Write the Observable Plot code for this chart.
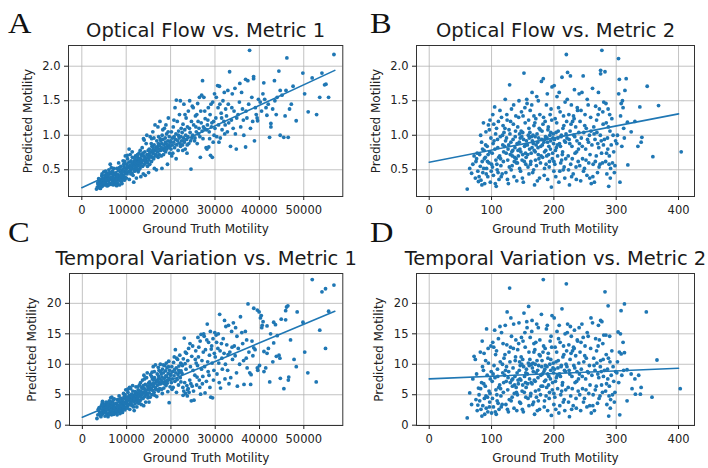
<!DOCTYPE html>
<html><head><meta charset="utf-8">
<script src="https://cdn.jsdelivr.net/npm/d3@7"></script>
<script src="https://cdn.jsdelivr.net/npm/@observablehq/plot@0.6"></script>
<style>
html,body{margin:0;padding:0;background:#fff;}
#wrap{position:relative;width:708px;height:468px;overflow:hidden;background:#fff;font-family:"DejaVu Sans",sans-serif;}
#wrap svg{position:absolute;overflow:visible;}
</style></head><body><div id="wrap"></div>
<script>
// ---- text ----
const titles = ["Optical Flow vs. Metric 1","Optical Flow vs. Metric 2","Temporal Variation vs. Metric 1","Temporal Variation vs. Metric 2"];
const panelLetters = ["A","B","C","D"];
const xLabel = "Ground Truth Motility";
const yLabel = "Predicted Motility";
// ---- ticks ----
const metric1Ticks = [0,10000,20000,30000,40000,50000];
const metric2Ticks = [0,100,200,300,400];
const opticalTicks = [0.5,1.0,1.5,2.0];
const temporalTicks = [0,5,10,15,20];
// ---- fitted regression lines ----
const fitA = [[0,0.24],[57000,1.94]];
const fitB = [[0,0.61],[400,1.31]];
const fitC = [[0,1.3],[57000,18.7]];
const fitD = [[0,7.6],[400,9.35]];
// ---- A: Optical Flow vs Metric 1 ----
const opticalVsMetric1 = [
[3300,0.22],[3500,0.25],[3700,0.29],[3900,0.24],[4000,0.33],[4100,0.27],[4300,0.36],[4400,0.30],[4500,0.41],[4600,0.26],[4700,0.34],[4800,0.38],[4900,0.29],[3600,0.31],[4200,0.23],[4550,0.44],[4850,0.32],[4950,0.47],[3800,0.37],[4650,0.35],[4350,0.28],[4750,0.30],
[5000,0.36],[5100,0.28],[5200,0.42],[5300,0.33],[5400,0.39],[5500,0.30],[5600,0.45],[5700,0.36],[5800,0.27],[5900,0.41],[6000,0.34],[6100,0.50],[6200,0.31],[6300,0.38],[6400,0.58],[6500,0.44],[6600,0.29],[6700,0.36],[6800,0.47],[6900,0.33],[7000,0.40],[7100,0.28],[7200,0.52],[7300,0.35],[7400,0.43],[5050,0.31],[5350,0.48],[5650,0.27],[5950,0.37],[6250,0.46],[6550,0.39],[6850,0.30],[7150,0.44],[7450,0.33],[5450,0.35],[6050,0.28],[6650,0.53],[7250,0.38],[5750,0.42],[6950,0.48],
[7500,0.36],[7600,0.29],[7700,0.45],[7800,0.39],[7900,0.52],[8000,0.31],[8100,0.43],[8200,0.36],[8300,0.60],[8400,0.40],[8500,0.28],[8600,0.47],[8700,0.38],[8800,0.55],[8900,0.33],[9000,0.44],[9100,0.50],[9200,0.37],[9300,0.63],[9400,0.42],[9500,0.54],[9600,0.35],[9700,0.48],[9800,0.70],[9900,0.45],[7650,0.33],[7950,0.41],[8250,0.50],[8550,0.34],[8850,0.46],[9150,0.40],[9450,0.58],[9750,0.39],[7850,0.27],[8450,0.53],[9050,0.30],[9650,0.62],[9950,0.52],[8750,0.42],[9350,0.47],
[10000,0.50],[10100,0.58],[10200,0.44],[10300,0.66],[10400,0.53],[10500,0.47],[10600,0.61],[10700,0.36],[10800,0.56],[10900,0.72],[11000,0.49],[11100,0.63],[11200,0.54],[11300,0.45],[11400,0.68],[11500,0.58],[11600,0.51],[11700,0.32],[11800,0.62],[11900,0.48],[12000,0.57],[12100,0.70],[12200,0.52],[12300,0.38],[12400,0.64],[10050,0.38],[10350,0.55],[10650,0.80],[10950,0.52],[11250,0.60],[11550,0.42],[11850,0.55],[12150,0.61],[12450,0.50],[10250,0.71],[10750,0.48],[11350,0.76],[11950,0.66],[12350,0.58],[11050,0.44],
[12500,0.55],[12600,0.68],[12700,0.47],[12800,0.62],[12900,0.74],[13000,0.58],[13100,0.52],[13200,0.66],[13300,0.40],[13400,0.71],[13500,0.60],[13600,0.82],[13700,0.55],[13800,0.64],[13900,0.95],[14000,0.70],[14100,0.58],[14200,0.76],[14300,0.42],[14400,0.66],[14500,0.88],[14600,0.62],[14700,0.72],[14800,0.55],[14900,0.68],[12550,0.72],[12850,0.50],[13150,0.78],[13450,0.63],[13750,0.74],[14050,0.93],[14350,0.62],[14650,1.00],[14950,0.78],[12750,0.60],[13250,0.56],[13850,0.44],[14250,0.68],[14750,0.60],[13650,0.70],[14150,0.64],[12950,0.66],
[15000,0.72],[15100,0.64],[15200,0.80],[15300,0.58],[15400,0.98],[15500,0.70],[15600,0.76],[15700,0.62],[15800,0.84],[15900,0.68],[16000,1.05],[16100,0.74],[16200,0.66],[16300,0.86],[16400,0.78],[16500,1.15],[16600,0.70],[16700,0.82],[16800,0.50],[16900,0.92],[17000,0.76],[17100,0.84],[17200,0.68],[17300,0.98],[17400,0.80],[15050,0.46],[15350,0.75],[15650,0.88],[15950,0.78],[16250,0.96],[16550,0.72],[16850,0.80],[17150,1.12],[17450,0.72],[15250,0.68],[15750,0.95],[16350,0.52],[16950,0.70],[17250,0.88],[16050,0.82],
[17500,0.85],[17600,1.20],[17700,0.78],[17800,0.92],[17900,0.70],[18000,0.88],[18100,1.00],[18200,0.80],[18300,0.94],[18400,0.72],[18500,0.86],[18600,1.10],[18700,0.82],[18800,0.96],[18900,0.76],[19000,0.88],[19100,1.02],[19200,0.84],[19300,0.58],[19400,0.92],[19500,1.25],[19600,0.86],[19700,0.98],[19800,0.74],[19900,0.90],[17650,0.95],[17950,0.82],[18250,1.08],[18550,0.78],[18850,0.90],[19150,0.80],[19450,1.05],[19750,0.82],[18050,0.52],[18950,1.15],
[20000,0.92],[20100,0.80],[20200,1.05],[20300,0.86],[20400,0.96],[20500,0.74],[20600,1.12],[20700,0.90],[20800,0.98],[20900,0.82],[21000,1.40],[21100,0.94],[21200,1.02],[21300,1.51],[21400,0.86],[21500,1.20],[21600,0.92],[21700,0.78],[21800,1.06],[21900,0.96],[22000,1.30],[22100,0.88],[22200,1.50],[22300,0.98],[22400,1.10],[20250,0.70],[20750,1.22],[21250,0.66],[21750,1.00],[22250,0.84],
[22500,0.92],[22600,1.04],[22700,0.86],[22800,1.16],[22900,0.96],[23000,1.45],[23100,0.90],[23200,1.08],[23300,0.80],[23400,1.00],[23500,1.25],[23600,0.94],[23700,0.74],[23800,1.12],[23900,0.98],[24000,1.35],[24100,0.88],[24300,1.50],[24400,1.04],[24500,0.92],[24600,0.51],[24700,1.20],[24800,0.96],[24900,1.42],[22750,0.78],[23250,1.30],[23750,0.86],[24250,1.10],
[25000,1.00],[25200,1.15],[25400,0.92],[25600,1.28],[25800,1.05],[26000,0.88],[26200,1.20],[26400,1.10],[26600,0.98],[26700,0.68],[26800,1.35],[27000,1.58],[27200,1.79],[27400,1.12],[25100,1.40],[25500,0.96],[25900,1.30],[26300,1.02],[26500,1.55],[26900,1.18],[27300,0.95],[25700,1.12],[26100,1.46],[27100,1.06],
[27500,1.55],[27600,1.10],[27800,1.24],[28000,0.82],[28200,0.80],[28300,1.15],[28500,1.40],[28600,0.83],[28700,1.05],[28900,1.30],[29000,0.71],[29200,1.12],[29400,0.68],[29500,1.48],[29700,1.20],[29800,1.00],[29900,1.60],[27700,1.35],[28100,1.08],[28400,1.22],[28800,0.95],[29100,1.45],[29300,1.18],[29600,0.90],
[30000,1.10],[30200,1.25],[30400,0.98],[30600,1.72],[30700,1.40],[30800,1.15],[31000,1.71],[31200,0.96],[31400,1.32],[31600,1.08],[31800,1.50],[32000,1.20],[32200,1.02],[32400,1.38],[30300,1.55],[30900,0.90],[31500,1.25],[32100,1.62],[31100,1.45],[32300,1.15],
[32600,1.28],[32800,1.05],[33000,1.45],[33300,1.92],[33500,0.84],[33700,1.22],[33900,1.60],[34100,1.10],[34300,1.35],[34500,1.68],[34800,0.80],[34900,1.25],[33100,1.18],[33800,1.40],[34600,1.02],[32900,1.65],
[35200,1.30],[35500,1.48],[35800,1.12],[36000,1.62],[36200,1.38],[36500,1.00],[36900,0.83],[36900,1.81],[37200,1.25],[37400,1.79],[37600,1.45],[37800,2.23],[38000,1.10],[38300,1.55],[38700,1.85],[38700,1.82],[38900,0.92],[39100,1.40],[39300,1.30],[39500,1.25],[39600,1.21],[39800,1.52],[35600,1.75],[36400,1.22],[37000,1.35],[38500,1.20],
[40200,1.48],[40500,1.35],[41000,1.76],[41200,1.52],[41700,1.29],[42000,1.45],[42300,0.97],[42600,1.17],[42600,1.12],[43000,1.38],[43400,1.79],[43500,1.50],[44000,1.55],[44400,1.93],[44700,1.00],[44700,1.65],[45100,1.58],[40800,1.60],[41500,1.40],[43800,1.30],
[45500,0.97],[46200,2.12],[46500,0.97],[46800,1.38],[47600,1.71],[48300,1.21],[49800,1.90],[46000,1.65],[51000,1.34],[51900,1.83],[52900,1.30],[53600,1.55],[54100,1.90],[54700,1.73],[55000,1.74],[55600,1.55],[56800,2.17],[47200,1.45],[50200,1.60],[45800,1.28]
];
// ---- B: Optical Flow vs Metric 2 ----
const opticalVsMetric2 = [
[61,0.22],[65,0.52],[68,0.45],[72,0.70],[74,0.38],[75,0.62],[77,0.74],[78,0.48],[79,0.33],[70,0.58],[76,0.66],[80,0.40],
[81,0.72],[82,0.55],[83,0.35],[84,0.90],[85,0.62],[86,0.46],[87,1.18],[88,0.78],[89,0.30],[90,0.68],[91,1.05],[92,0.52],[93,0.84],[94,0.40],[95,1.15],[96,0.60],[97,0.76],[98,0.32],[99,0.96],[100,0.58],[82.5,1.00],[85.5,0.80],[88.5,0.66],[91.5,0.44],[94.5,0.72],[97.5,1.22],[99.5,0.48],[84.5,0.28],[90.5,0.86],[96.5,1.08],[87.5,0.52],[93.5,0.62],
[101,0.74],[102,1.30],[103,0.42],[104,0.92],[105,1.41],[106,0.30],[107,0.64],[108,1.10],[109,0.50],[110,0.82],[111,1.20],[112,0.36],[113,0.70],[114,0.98],[115,0.56],[116,1.26],[117,0.44],[118,0.86],[119,0.62],[120,1.04],[101.5,0.54],[103.5,1.16],[105.5,0.80],[107.5,0.26],[109.5,0.94],[111.5,0.68],[113.5,1.36],[115.5,0.40],[117.5,1.00],[119.5,0.76],[102.5,0.88],[106.5,1.02],[110.5,0.46],[114.5,0.66],[118.5,1.14],[108.5,0.58],
[121,0.84],[122,1.52],[123,0.46],[124,0.96],[125,1.22],[126,0.64],[127,0.30],[128,1.08],[129,1.73],[130,0.72],[131,0.90],[132,1.38],[133,0.56],[134,0.78],[135,1.16],[136,0.40],[137,0.68],[138,0.98],[139,1.28],[140,0.60],[121.5,1.10],[123.5,0.74],[125.5,0.36],[127.5,0.86],[129.5,1.02],[131.5,0.50],[133.5,0.70],[135.5,1.44],[137.5,0.82],[139.5,0.66],[122.5,0.92],[124.5,1.30],[126.5,0.80],[128.5,0.54],[130.5,1.20],[132.5,0.76],[134.5,0.94],[136.5,0.62],[138.5,1.06],[140.5,0.34],
[141,0.88],[142,1.12],[143,0.70],[144,1.50],[145,0.52],[146,0.96],[147,0.76],[148,1.34],[149,0.64],[150,1.04],[151,0.32],[152,1.90],[153,0.84],[154,1.18],[155,0.58],[156,0.92],[157,1.46],[158,0.72],[159,1.00],[160,0.44],[141.5,0.60],[143.5,1.26],[145.5,0.80],[147.5,1.06],[149.5,0.38],[151.5,0.94],[153.5,1.40],[155.5,0.68],[157.5,0.86],[159.5,1.22],[142.5,0.78],[144.5,0.90],[146.5,0.48],[148.5,0.98],[150.5,1.28],[152.5,0.62],[154.5,0.74],[156.5,1.52],[158.5,0.54],[160.5,0.96],[145,1.02],[150,0.72],[155,0.86],[160,1.10],
[161,0.80],[162,1.36],[163,0.62],[164,0.98],[165,1.62],[166,0.46],[167,0.88],[168,1.14],[169,0.28],[170,0.76],[171,1.24],[172,0.56],[173,1.02],[174,0.90],[175,1.50],[176,0.66],[177,0.38],[178,1.08],[179,0.84],[180,1.78],[161.5,1.04],[163.5,0.74],[165.5,0.92],[167.5,0.50],[169.5,1.18],[171.5,0.86],[173.5,0.34],[175.5,0.96],[177.5,1.30],[179.5,0.70],[162.5,0.58],[164.5,1.44],[166.5,1.00],[168.5,0.78],[170.5,0.64],[172.5,1.56],[174.5,0.82],[176.5,1.10],[178.5,0.60],[180.5,0.94],[165,0.82],[170,0.98],[175,0.72],[168,1.28],
[181,1.06],[182,0.68],[183,1.82],[184,0.90],[185,0.52],[186,1.20],[187,0.78],[188,1.44],[189,0.96],[190,0.36],[191,1.12],[192,0.84],[193,0.62],[194,1.30],[195,0.92],[196,0.25],[197,1.70],[198,0.74],[199,1.02],[200,0.48],[181.5,0.86],[183.5,1.26],[185.5,0.94],[187.5,0.58],[189.5,1.60],[191.5,0.72],[193.5,1.00],[195.5,1.38],[197.5,0.66],[199.5,0.88],[182.5,1.16],[184.5,0.42],[186.5,0.98],[188.5,0.70],[190.5,1.08],[192.5,0.54],[194.5,0.80],[196.5,1.22],[198.5,0.96],[200.5,1.72],[185,0.76],[190,0.90],[195,1.04],[200,0.62],
[201,0.94],[202,1.24],[203,0.40],[204,0.82],[205,1.56],[206,0.70],[207,1.06],[208,0.32],[209,0.88],[210,1.34],[211,0.60],[212,1.00],[213,1.84],[214,0.76],[215,0.50],[216,1.14],[217,0.92],[218,1.48],[219,0.66],[220,2.17],[201.5,0.58],[203.5,1.04],[205.5,0.86],[207.5,1.40],[209.5,0.48],[211.5,0.98],[213.5,0.72],[215.5,1.28],[217.5,0.38],[219.5,1.02],[202.5,0.78],[204.5,1.18],[206.5,0.96],[208.5,1.62],[210.5,0.84],[212.5,0.64],[214.5,1.10],[216.5,0.54],[218.5,0.90],[220.5,1.20],
[221,0.96],[222,1.91],[223,0.70],[224,1.30],[225,0.28],[226,1.06],[227,0.58],[228,1.44],[229,0.84],[230,1.20],[231,0.44],[232,1.00],[233,1.66],[234,0.74],[235,1.12],[236,0.36],[237,0.92],[238,1.36],[239,0.62],[240,1.04],[221.5,1.52],[223.5,0.50],[225.5,0.88],[227.5,1.16],[229.5,0.66],[231.5,1.28],[233.5,0.98],[235.5,0.54],[237.5,1.40],[239.5,0.80],[224.5,0.94],[228.5,0.40],[232.5,1.24],[236.5,0.76],[240.5,1.60],[226.5,1.86],
[241,0.88],[242,1.20],[243,0.34],[244,0.96],[245,1.62],[246,0.66],[247,1.86],[248,1.04],[249,0.52],[250,1.30],[251,0.80],[252,1.10],[253,0.42],[254,0.94],[255,1.44],[256,0.60],[257,1.00],[258,0.72],[259,1.26],[260,0.30],[241.5,0.56],[243.5,1.36],[245.5,0.84],[247.5,0.48],[249.5,1.14],[251.5,0.64],[253.5,1.52],[255.5,0.90],[257.5,0.38],[259.5,1.06],
[261,0.86],[262,1.68],[263,0.58],[264,1.12],[265,0.32],[266,0.94],[267,1.42],[268,0.70],[269,1.04],[270,0.46],[271,1.30],[272,0.82],[273,1.38],[274,0.58],[275,1.89],[276,0.92],[277,2.23],[278,0.60],[279,1.16],[280,1.48],[275,1.94],[262.5,0.40],[264.5,1.02],[266.5,0.62],[268.5,1.22],[270.5,0.88],[272.5,0.54],[274.5,1.00],[276.5,0.74],[278.5,1.34],[279.5,0.86],[271.5,1.62],
[281,0.94],[282,1.92],[283,0.62],[284,1.18],[285,0.44],[286,0.96],[287,1.38],[288,0.26],[289,0.70],[290,1.06],[291,0.52],[292,0.86],[293,1.24],[294,0.60],[295,1.00],[297,0.46],[299,0.92],[286.5,0.80],[287.5,1.12],[288.5,0.58],[289.5,1.30],[290.5,0.38],[284.5,0.74],[283.5,1.46],[296,0.76],[298,0.56],
[301,0.88],[303.7,2.11],[305,1.81],[306,0.32],[308,1.46],[310,1.50],[312,1.10],[314,1.65],[316,1.82],[318,1.19],[318.7,0.57],[302,1.00],[304,1.60],[307,1.28],[309,0.84],[311,1.40],[313,0.96],[324,1.05],
[334.8,0.84],[337.9,1.41],[341.2,0.97],[340,0.90],[349.7,1.71],[358.8,0.69],[367.9,1.43],[404.3,0.76],[330,1.20]
];
// ---- C: Temporal Variation vs Metric 1 ----
const temporalVsMetric1 = [
[3300,1.1],[3500,1.7],[3700,2.4],[3900,2.0],[4000,2.9],[4100,1.6],[4300,3.2],[4400,2.2],[4500,3.6],[4600,1.9],[4700,2.7],[4800,3.0],[4900,2.3],[3600,2.6],[4200,1.4],[4550,3.9],[4850,2.6],[4950,3.4],[3800,2.9],[4650,2.5],[4350,1.8],[4750,3.3],
[5000,2.8],[5100,1.5],[5200,3.4],[5300,2.3],[5400,3.0],[5500,1.9],[5600,3.7],[5700,2.6],[5800,1.4],[5900,3.2],[6000,2.5],[6100,4.0],[6200,2.1],[6300,2.9],[6400,4.5],[6500,3.3],[6600,1.7],[6700,2.7],[6800,3.8],[6900,2.2],[7000,3.1],[7100,1.8],[7200,4.3],[7300,2.6],[7400,3.5],[5050,2.1],[5350,3.8],[5650,1.6],[5950,2.9],[6250,3.6],[6550,2.4],[6850,2.0],[7150,3.4],[7450,2.3],[5450,2.6],[6050,1.8],[6650,4.6],[7250,2.9],[5750,3.3],[6950,4.1],
[7500,2.7],[7600,2.0],[7700,3.6],[7800,3.0],[7900,4.2],[8000,2.2],[8100,3.3],[8200,2.6],[8300,4.8],[8400,3.1],[8500,1.9],[8600,3.7],[8700,2.8],[8800,4.4],[8900,2.4],[9000,3.4],[9100,4.0],[9200,2.7],[9300,5.2],[9400,3.2],[9500,4.5],[9600,2.5],[9700,3.8],[9800,5.8],[9900,3.5],[7650,2.4],[7950,3.1],[8250,4.0],[8550,2.3],[8850,3.6],[9150,3.0],[9450,4.7],[9750,2.9],[7850,1.7],[8450,4.3],[9050,2.1],[9650,5.0],[9950,4.2],[8750,3.2],[9350,3.7],
[10000,3.8],[10100,4.6],[10200,3.1],[10300,5.4],[10400,4.1],[10500,3.4],[10600,4.9],[10700,2.6],[10800,4.4],[10900,6.0],[11000,3.6],[11100,5.1],[11200,4.2],[11300,3.2],[11400,5.6],[11500,4.6],[11600,3.9],[11700,2.4],[11800,5.0],[11900,3.5],[12000,4.5],[12100,6.3],[12200,4.0],[12300,3.0],[12400,5.3],[10050,2.8],[10350,4.3],[10650,6.2],[10950,4.0],[11250,4.8],[11550,3.0],[11850,4.3],[12150,5.0],[12450,3.8],[10250,5.9],[10750,3.6],[11350,6.5],[11950,5.5],[12350,4.6],[11050,3.3],
[12500,4.4],[12600,5.8],[12700,3.6],[12800,5.1],[12900,6.6],[13000,4.8],[13100,4.1],[13200,5.6],[13300,3.4],[13400,6.2],[13500,5.0],[13600,7.4],[13700,4.4],[13800,5.4],[13900,8.2],[14000,6.0],[14100,4.7],[14200,6.7],[14300,3.8],[14400,5.7],[14500,7.8],[14600,5.2],[14700,6.4],[14800,4.5],[14900,5.9],[12550,6.3],[12850,3.9],[13150,7.0],[13450,5.3],[13750,6.5],[14050,7.6],[14350,5.1],[14650,8.6],[14950,6.9],[12750,4.9],[13250,4.6],[13850,3.2],[14250,5.8],[14750,4.9],[13650,6.0],[14150,5.4],[12950,5.6],
[15000,6.2],[15100,5.3],[15200,7.1],[15300,4.6],[15400,8.3],[15500,6.0],[15600,6.7],[15700,5.0],[15800,7.6],[15900,5.7],[16000,9.6],[16100,6.4],[16200,5.4],[16300,7.8],[16400,6.9],[16500,9.9],[16600,5.9],[16700,7.3],[16800,4.7],[16900,8.4],[17000,6.6],[17100,7.5],[17200,5.6],[17300,9.0],[17400,7.0],[15050,3.8],[15350,6.5],[15650,8.0],[15950,6.8],[16250,8.8],[16550,6.1],[16850,7.2],[17150,9.5],[17450,6.0],[15250,5.8],[15750,8.7],[16350,4.9],[16950,5.8],[17250,8.0],[16050,7.4],
[17500,7.6],[17600,10.0],[17700,6.8],[17800,8.4],[17900,5.9],[18000,7.9],[18100,9.2],[18200,7.0],[18300,8.6],[18400,6.1],[18500,7.7],[18600,9.8],[18700,7.2],[18800,8.9],[18900,6.5],[19000,8.0],[19100,9.4],[19200,7.4],[19300,5.5],[19400,8.5],[19500,10.5],[19600,7.7],[19700,9.0],[19800,6.3],[19900,8.2],[17650,8.8],[17950,7.3],[18250,9.9],[18550,6.8],[18850,8.1],[19150,6.9],[19450,9.6],[19600,3.7],[18050,5.2],[18950,10.2],
[20000,8.4],[20100,7.0],[20200,9.6],[20300,7.6],[20400,8.8],[20500,6.2],[20600,10.3],[20700,8.1],[20800,9.1],[20900,7.2],[21000,12.4],[21100,8.6],[21200,9.4],[21300,11.0],[21400,7.5],[21500,10.8],[21600,8.3],[21700,6.6],[21800,9.7],[21900,8.7],[22000,11.5],[22100,7.8],[22200,10.2],[22300,8.9],[22400,10.0],[20250,5.9],[20750,11.2],[21250,5.4],[21750,9.0],[22250,7.1],
[22500,8.5],[22600,9.8],[22700,6.2],[22800,10.9],[22900,5.6],[23000,14.3],[23100,7.0],[23200,10.1],[23300,5.2],[23400,9.2],[23500,11.8],[23600,6.5],[23700,4.8],[23800,10.6],[23900,6.0],[24000,12.6],[24100,5.4],[24300,13.4],[24400,9.6],[24500,6.8],[24600,4.0],[24700,11.3],[24800,6.4],[24900,13.0],[22750,4.9],[23250,12.0],[23750,5.8],[24250,7.4],
[25000,9.0],[25200,4.1],[25400,8.2],[25600,12.2],[25800,6.6],[26000,9.8],[26200,11.2],[26400,7.4],[26600,13.8],[26700,5.1],[26800,14.9],[27000,10.6],[27200,8.0],[27400,15.0],[25100,5.6],[25500,10.8],[25900,7.9],[26300,12.8],[26500,6.2],[26900,9.2],[27300,12.0],[25700,10.2],[26100,14.4],[27100,6.8],
[27500,14.6],[27600,9.6],[27800,12.4],[28000,7.2],[28200,16.6],[28300,10.4],[28500,13.6],[28600,8.2],[28700,11.5],[28900,15.4],[29000,4.6],[29200,13.0],[29400,4.5],[29500,14.2],[29700,9.0],[29800,11.8],[29900,15.2],[27700,5.3],[28100,14.0],[28400,8.8],[28800,6.2],[29100,12.5],[29300,10.2],[29600,7.4],
[30000,11.2],[30200,14.8],[30400,8.4],[30600,12.6],[30700,15.0],[30800,10.2],[31000,18.2],[31200,6.1],[31400,13.4],[31600,9.2],[31800,14.2],[32000,11.8],[32200,7.6],[32400,16.2],[30300,13.6],[30900,7.0],[31500,11.0],[32100,17.2],[31100,12.2],[32300,10.0],
[32600,13.2],[32800,9.0],[33000,16.4],[33300,12.0],[33500,7.8],[33700,15.4],[33900,10.8],[34100,16.8],[34300,13.0],[34500,11.4],[34800,8.6],[34900,14.6],[33100,6.8],[33800,12.8],[34600,16.0],[32900,11.6],
[35000,6.4],[35200,12.6],[35500,10.0],[35700,17.8],[36000,15.2],[36200,13.4],[36500,6.7],[36800,15.4],[37000,11.0],[37200,9.4],[37400,19.9],[37600,12.0],[37800,8.6],[38000,6.7],[38100,8.3],[38300,13.8],[38700,19.2],[38700,12.7],[39000,12.4],[39500,18.9],[39500,9.4],[39600,9.0],[39900,18.6],[36400,10.6],[37100,14.0],[38500,11.4],
[40000,9.8],[40200,17.6],[40400,18.0],[40600,16.4],[40800,17.0],[41000,12.1],[41000,8.8],[41400,9.4],[41700,11.8],[41700,16.3],[42300,7.1],[42500,15.0],[43200,13.5],[43200,16.9],[43600,16.5],[43800,11.3],[44000,14.7],[44400,11.5],[44600,11.0],[44700,7.7],[44900,17.4],[40500,16.0],[42000,12.6],[43000,10.4],
[45500,6.0],[45900,17.3],[45900,18.8],[46100,19.4],[46400,19.6],[46500,7.4],[46600,7.9],[48300,9.6],[48500,18.6],[49800,16.9],[50900,8.6],[51900,23.9],[52800,7.1],[53600,15.6],[54100,21.9],[54900,22.4],[54900,12.6],[55600,18.7],[56800,23.0],[47000,14.0],[50200,12.0],[47800,10.8]
];
// ---- D: Temporal Variation vs Metric 2 ----
const temporalVsMetric2 = [
[61,1.2],[65,5.3],[68,3.4],[72,11.3],[74,10.8],[75,4.2],[77,2.4],[78,3.3],[79,6.1],[70,7.6],[76,8.4],[80,5.0],
[81,4.0],[82,12.0],[83,2.6],[84,7.0],[85,13.8],[86,3.2],[87,9.0],[88,11.8],[89,1.8],[90,6.4],[91,4.8],[92,15.8],[93,8.2],[94,2.2],[95,10.2],[96,5.6],[97,3.8],[98,7.6],[99,13.0],[100,2.0],[82.5,6.0],[85.5,9.6],[88.5,4.4],[91.5,2.8],[94.5,12.6],[97.5,5.2],[99.5,8.8],[84.5,1.5],[90.5,10.6],[96.5,3.0],[87.5,6.8],[93.5,4.6],
[101,7.2],[102,13.6],[103,3.0],[104,9.8],[105,15.6],[106,2.2],[107,5.8],[108,12.2],[109,4.0],[110,8.0],[111,14.2],[112,2.6],[113,6.6],[114,10.4],[115,4.8],[116,15.2],[117,3.4],[118,8.6],[119,5.4],[120,11.0],[101.5,4.4],[103.5,12.8],[105.5,7.8],[107.5,1.8],[109.5,9.2],[111.5,6.2],[113.5,16.2],[115.5,3.0],[117.5,10.0],[119.5,7.0],[102.5,8.4],[106.5,11.6],[110.5,3.6],[114.5,6.0],[118.5,13.4],[108.5,5.0],
[121,8.2],[122,16.4],[123,3.4],[124,9.6],[125,18.6],[126,5.8],[127,2.2],[128,12.0],[129,22.5],[130,7.0],[131,17.6],[132,14.6],[133,4.6],[134,7.6],[135,12.6],[136,2.8],[137,6.6],[138,10.6],[139,14.0],[140,5.4],[121.5,11.6],[123.5,7.2],[125.5,2.6],[127.5,8.8],[129.5,10.4],[131.5,4.0],[133.5,6.4],[135.5,16.6],[137.5,8.0],[139.5,6.2],[122.5,9.0],[124.5,13.2],[126.5,7.8],[128.5,4.2],[130.5,12.8],[132.5,7.4],[134.5,9.4],[136.5,5.2],[138.5,11.2],[140.5,2.4],
[141,8.6],[142,12.4],[143,6.8],[144,16.8],[145,3.8],[146,9.8],[147,7.4],[148,14.4],[149,5.6],[150,10.8],[151,2.2],[152,18.4],[153,8.0],[154,12.8],[155,4.6],[156,9.2],[157,16.0],[158,6.8],[159,10.2],[160,3.2],[141.5,5.0],[143.5,13.4],[145.5,7.6],[147.5,11.2],[149.5,2.6],[151.5,9.6],[153.5,15.2],[155.5,6.2],[157.5,8.4],[159.5,19.5],[142.5,7.4],[144.5,9.0],[146.5,3.6],[148.5,10.0],[150.5,13.8],[152.5,5.4],[154.5,7.0],[156.5,17.0],[158.5,4.4],[160.5,9.8],[145,10.4],[150,6.6],[155,8.6],[160,12.0],
[161,7.6],[162,14.4],[163,5.2],[164,10.0],[165,17.2],[166,3.4],[167,8.8],[168,12.0],[169,1.8],[170,7.2],[171,13.6],[172,4.6],[173,10.6],[174,9.0],[175,16.0],[176,5.8],[177,2.6],[178,11.4],[179,8.2],[180,18.2],[161.5,10.8],[163.5,7.0],[165.5,9.4],[167.5,3.8],[169.5,12.4],[171.5,8.6],[173.5,2.4],[175.5,9.8],[177.5,14.0],[179.5,6.4],[162.5,4.8],[164.5,15.4],[166.5,10.2],[168.5,7.4],[170.5,5.6],[172.5,16.6],[174.5,7.8],[176.5,11.6],[178.5,5.0],[180.5,9.6],[165,6.8],[170,10.0],[175,4.0],[168,13.4],
[181,10.6],[182,6.4],[183,23.9],[184,8.8],[185,4.0],[186,12.6],[187,7.4],[188,15.8],[189,9.6],[190,2.4],[191,11.8],[192,8.0],[193,5.4],[194,13.8],[195,9.0],[196,1.6],[197,18.0],[198,7.0],[199,10.2],[200,3.4],[181.5,8.4],[183.5,13.0],[185.5,9.2],[187.5,4.8],[189.5,16.4],[191.5,6.6],[193.5,10.0],[195.5,14.6],[197.5,5.8],[199.5,8.6],[182.5,12.0],[184.5,3.0],[186.5,9.8],[188.5,6.2],[190.5,11.0],[192.5,4.4],[194.5,7.6],[196.5,12.8],[198.5,9.4],[200.5,17.6],[185,7.2],[190,8.4],[195,10.8],[200,5.2],
[201,9.2],[202,12.8],[203,2.6],[204,7.8],[205,15.4],[206,6.0],[207,10.6],[208,2.0],[209,8.4],[210,13.6],[211,5.0],[212,9.8],[213,19.1],[214,7.0],[215,3.8],[216,11.6],[217,9.0],[218,15.0],[219,5.8],[220,23.2],[201.5,4.6],[203.5,10.4],[205.5,8.2],[207.5,14.2],[209.5,3.2],[211.5,9.6],[213.5,6.6],[215.5,13.0],[217.5,2.4],[219.5,10.0],[202.5,7.2],[204.5,12.0],[206.5,9.4],[208.5,16.4],[210.5,8.0],[212.5,5.6],[214.5,11.2],[216.5,4.2],[218.5,8.8],[220.5,12.2],
[221,9.6],[222,16.6],[223,6.2],[224,13.2],[225,1.4],[226,10.8],[227,4.8],[228,14.6],[229,8.0],[230,12.2],[231,3.2],[232,9.8],[233,15.6],[234,7.0],[235,11.4],[236,2.8],[237,8.8],[238,13.8],[239,5.6],[240,10.2],[221.5,15.2],[223.5,3.8],[225.5,8.4],[227.5,11.8],[229.5,6.0],[231.5,12.8],[233.5,9.4],[235.5,4.4],[237.5,14.0],[239.5,7.6],[224.5,9.0],[228.5,2.6],[232.5,12.6],[236.5,7.2],[240.5,16.0],[226.5,16.2],
[241,8.4],[242,12.0],[243,2.4],[244,9.2],[245,16.6],[246,6.0],[247,14.4],[248,10.4],[249,4.4],[250,13.0],[251,7.6],[252,11.0],[253,3.0],[254,8.8],[255,14.6],[256,5.2],[257,9.8],[258,6.6],[259,12.6],[260,2.0],[241.5,5.0],[243.5,13.6],[245.5,8.0],[247.5,3.8],[249.5,11.4],[251.5,5.8],[253.5,15.2],[255.5,8.6],[257.5,3.2],[259.5,17.6],
[261,8.2],[262,16.8],[263,5.0],[264,11.0],[265,2.4],[266,9.0],[267,14.2],[268,6.4],[269,10.2],[270,3.6],[271,13.0],[272,7.8],[273,14.0],[274,4.8],[275,17.2],[276,8.8],[277,17.0],[278,5.4],[279,10.8],[280,14.8],[275,10.6],[262.5,3.2],[264.5,9.8],[266.5,5.8],[268.5,12.2],[270.5,8.4],[272.5,4.4],[274.5,9.6],[276.5,6.6],[278.5,13.4],[279.5,8.0],[271.5,16.4],
[281,9.0],[282,21.9],[283,5.6],[284,11.6],[285,3.4],[286,9.2],[287,19.6],[288,1.5],[289,6.4],[290,10.4],[291,4.2],[292,8.2],[293,12.2],[294,5.0],[295,9.6],[297,3.8],[299,8.8],[286.5,7.6],[287.5,11.0],[288.5,4.8],[289.5,14.6],[290.5,2.8],[284.5,6.8],[283.5,14.8],[296,7.2],[298,5.4],
[301,8.6],[303,15.3],[305,12.0],[305.7,1.7],[306.8,15.0],[308,11.7],[312,9.0],[313.2,19.9],[307.8,18.8],[317.4,9.1],[317.4,4.0],[302,10.4],[304,7.0],[313.2,11.9],[309,8.2],[311,13.6],[325.4,6.0],[324,8.4],
[330.8,5.1],[336.1,8.2],[338.8,5.1],[340,6.2],[348.3,18.6],[357.4,4.6],[365.4,10.7],[402.7,6.0],[330,7.6]
];

const wrap = document.getElementById("wrap");
const blue = "#1f77b4";

function panel(o) {
  const chart = Plot.plot({
    width: 354, height: 234,
    marginLeft: o.ml, marginRight: o.mr, marginTop: o.mt, marginBottom: o.mb,
    style: {background: "transparent", fontFamily: "DejaVu Sans", fontSize: "11.5px", color: "#222", overflow: "visible"},
    x: {domain: o.xDomain},
    y: {domain: o.yDomain},
    marks: [
      Plot.gridX({ticks: o.xTicks, stroke: "#b0b0b0", strokeOpacity: 0.85, strokeWidth: 0.9}),
      Plot.gridY({ticks: o.yTicks, stroke: "#b0b0b0", strokeOpacity: 0.85, strokeWidth: 0.9}),
      Plot.dot(o.data, {x: d => d[0], y: d => d[1], r: 1.9, fill: blue}),
      Plot.line(o.fit, {x: d => d[0], y: d => d[1], stroke: blue, strokeWidth: 1.6}),
      Plot.frame({stroke: "#333", strokeWidth: 1}),
      Plot.axisX({ticks: o.xTicks, tickSize: 4, tickPadding: 5.5, tickFormat: d3.format("d"), label: null, fontSize: 11.5}),
      Plot.axisY({ticks: o.yTicks, tickSize: 4, tickPadding: 4, tickFormat: o.yFormat, label: null, fontSize: 11.5}),
      Plot.text([o.title], {text: d => d, frameAnchor: "top", textAnchor: "middle", lineAnchor: "bottom", dy: -8.3, fontSize: 19.5, fill: "#1a1a1a"}),
      Plot.text([xLabel], {text: d => d, frameAnchor: "bottom", textAnchor: "middle", lineAnchor: "bottom", dy: 36.5, fontSize: 12, fill: "#222"}),
      Plot.text([yLabel], {text: d => d, frameAnchor: "left", textAnchor: "middle", lineAnchor: "middle", rotate: -90, dx: o.ylabDx, fontSize: 12, fill: "#222"})
    ]
  });
  chart.style.left = o.left + "px";
  chart.style.top = o.top + "px";
  wrap.appendChild(chart);
}

const fmt1 = d3.format(".1f"), fmt0 = d3.format("d");
panel({data: opticalVsMetric1, fit: fitA, title: titles[0], xDomain: [-3000, 58800], yDomain: [0.113, 2.30], xTicks: metric1Ticks, yTicks: opticalTicks, yFormat: fmt1, ml: 68, mr: 11.7, mt: 45, mb: 38, left: 0, top: 0, ylabDx: -40});
panel({data: opticalVsMetric2, fit: fitB, title: titles[1], xDomain: [-20.4, 425.6], yDomain: [0.113, 2.30], xTicks: metric2Ticks, yTicks: opticalTicks, yFormat: fmt1, ml: 62, mr: 14, mt: 45, mb: 38, left: 354, top: 0, ylabDx: -40});
panel({data: temporalVsMetric1, fit: fitC, title: titles[2], xDomain: [-2900, 58800], yDomain: [-0.05, 24.9], xTicks: metric1Ticks, yTicks: temporalTicks, yFormat: fmt0, ml: 69, mr: 11.7, mt: 39, mb: 43, left: 0, top: 234, ylabDx: -37});
panel({data: temporalVsMetric2, fit: fitD, title: titles[3], xDomain: [-20.4, 425.6], yDomain: [-0.05, 24.9], xTicks: metric2Ticks, yTicks: temporalTicks, yFormat: fmt0, ml: 62, mr: 14, mt: 39, mb: 43, left: 354, top: 234, ylabDx: -37});

// panel letters
const letterPos = [[8, 32.5], [370, 32.5], [8, 242.3], [370, 242.3]];
const overlay = d3.select(wrap).append("svg").attr("width", 708).attr("height", 468)
  .style("left", "0px").style("top", "0px").style("pointer-events", "none");
overlay.selectAll("text").data(panelLetters).join("text")
  .attr("transform", (d, i) => `translate(${letterPos[i][0]},${letterPos[i][1]}) scale(1.12,1)`)
  .attr("font-family", "'Liberation Serif', 'Times New Roman', serif")
  .attr("font-size", 29).attr("fill", "#111")
  .text(d => d);
</script></body></html>
